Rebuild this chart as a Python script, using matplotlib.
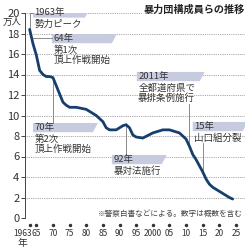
import matplotlib
matplotlib.use("Agg")
import matplotlib.pyplot as plt
import matplotlib.transforms as mtransforms
from matplotlib.patches import Polygon

plt.rcParams["font.family"] = ["Noto Sans CJK JP", "DejaVu Sans"]

# 暴力団構成員ら（万人）
years = [1963, 1964, 1965, 1966, 1967, 1968, 1969, 1970, 1971, 1972, 1973, 1974,
         1975, 1977, 1980, 1983, 1985, 1986, 1987, 1989, 1991, 1992, 1993, 1994,
         1995, 1997, 2000, 2003, 2005, 2008, 2010, 2011, 2012, 2013, 2014, 2015,
         2016, 2017, 2018, 2019, 2020, 2021, 2022, 2023, 2024]
members = [18.4, 17.0, 15.9, 14.4, 14.0, 13.8, 13.8, 13.7, 12.9, 12.1, 11.3, 11.0,
           10.8, 10.8, 10.6, 10.0, 9.4, 8.8, 8.6, 8.6, 9.0, 9.1, 8.8, 8.1,
           7.9, 7.8, 8.3, 8.6, 8.6, 8.3, 7.7, 7.0, 6.2, 5.7, 5.1, 4.5,
           3.8, 3.3, 3.0, 2.8, 2.6, 2.4, 2.2, 2.0, 1.85]

xticks = [1963, 1965, 1970, 1975, 1980, 1985, 1990, 1995, 2000, 2005, 2010, 2015, 2020, 2025]
xticklabels = ["1963", "65", "70", "75", "80", "85", "90", "95", "2000", "05", "10", "15", "20", "25"]
yticks = list(range(0, 21, 2))

# annotations: year, heading, body lines
notes = [
    (1963, "1963年", ["勢力ピーク"]),
    (1964, "64年", ["第1次", "頂上作戦開始"]),
    (1970, "70年", ["第2次", "頂上作戦開始"]),
    (1992, "92年", ["暴対法施行"]),
    (2011, "2011年", ["全都道府県で", "暴排条例施行"]),
    (2015, "15年", ["山口組分裂"]),
]
# box layout for each note: x0, x1, top of box (data units), leader style
layout = [
    (1964.0, 1979.6, 20.45, "up"),
    (1969.7, 1987.7, 17.95, "side"),
    (1964.0, 1982.0, 9.27, "down"),
    (1987.7, 2002.7, 6.15, "down"),
    (1995.2, 2014.1, 14.25, "up"),
    (2012.0, 2027.0, 9.37, "up"),
]

line_c = "#173f6b"
box_c = "#c6cbe0"
text_c = "#333333"
lead_c = "#777777"

fig = plt.figure(figsize=(2.5, 2.5), dpi=100)
ax = fig.add_axes([25 / 250, 32 / 250, 220 / 250, 205 / 250])
ax.set_xlim(1961.6, 2027.7)
ax.set_ylim(0, 20)

for v in yticks[1:]:
    ax.axhline(v, color="#8a8a8a", lw=0.6, ls=(0, (1, 1.2)), zorder=1)

val = dict(zip(years, members))
box_h = 0.9
for (yr, head, body), (x0, x1, top, kind) in zip(notes, layout):
    bot = top - box_h
    ax.add_patch(Polygon([(x0, top), (x1 + 1.5, top), (x1, bot), (x0, bot)],
                         closed=True, fc=box_c, ec="none", zorder=2))
    ax.text(x0 + 0.4, top - box_h / 2, head, fontsize=6.8, color=text_c,
            ha="left", va="center", zorder=4)
    for i, s in enumerate(body):
        ax.text(x0 + 0.4, bot - 0.65 - i * 1.05, s, fontsize=6.8, color=text_c,
                ha="left", va="center", zorder=4)
    d = val[yr]
    if kind == "down":
        ax.plot([yr, yr], [d, top], color=lead_c, lw=0.6, zorder=2)
    elif kind == "side":
        ax.plot([yr - 0.4, x0], [top - 0.35, top - 0.35], color=lead_c, lw=0.6, zorder=2)
    else:
        if yr == 1963:
            ax.plot([yr, yr, x0], [d, top - box_h / 2, top - box_h / 2],
                    color=lead_c, lw=0.6, zorder=2)
        else:
            txt_bot = bot - 0.65 - (len(body) - 1) * 1.05 - 0.55
            ax.plot([yr, yr], [d, txt_bot], color=lead_c, lw=0.6, zorder=2)

ax.plot(years, members, color=line_c, lw=2.0, solid_capstyle="round", zorder=3)

for s in ["top", "right", "bottom"]:
    ax.spines[s].set_visible(False)
ax.spines["left"].set_color("#444444")
ax.spines["left"].set_linewidth(0.7)

ax.set_yticks(yticks)
ax.set_yticklabels([str(v) for v in yticks])
ax.tick_params(axis="y", length=3, width=0.7, color="#444444", pad=1,
               labelsize=8, labelcolor=text_c)

ax.set_xticks(xticks)
ax.set_xticklabels(xticklabels)
ax.tick_params(axis="x", length=0, pad=8, labelsize=6.0, labelcolor=text_c)
first = ax.get_xticklabels()[0]
first.set_ha("right")
first.set_transform(first.get_transform() +
                    mtransforms.ScaledTranslation(2.3 / 100, 0, fig.dpi_scale_trans))

ax.scatter(xticks, [-0.035] * len(xticks), s=2.2, color="#333333",
           transform=ax.get_xaxis_transform(), clip_on=False, zorder=5)

fig.text(22 / 250, 1 - 243 / 250, "年", fontsize=7, color=text_c, ha="center", va="center")
fig.text(12 / 250, 1 - 22 / 250, "万人", fontsize=6.8, color=text_c, ha="center", va="center")
fig.text(245 / 250, 1 - 10 / 250, "暴力団構成員らの推移", fontsize=7.3, fontweight="bold",
         color="#222222", ha="right", va="center",
         bbox=dict(fc="white", ec="none", pad=1))
fig.text(243 / 250, 1 - 214 / 250, "※警察白書などによる。数字は概数を含む", fontsize=5.5,
         color="#444444", ha="right", va="center")

fig.savefig("out.png", dpi=100)
